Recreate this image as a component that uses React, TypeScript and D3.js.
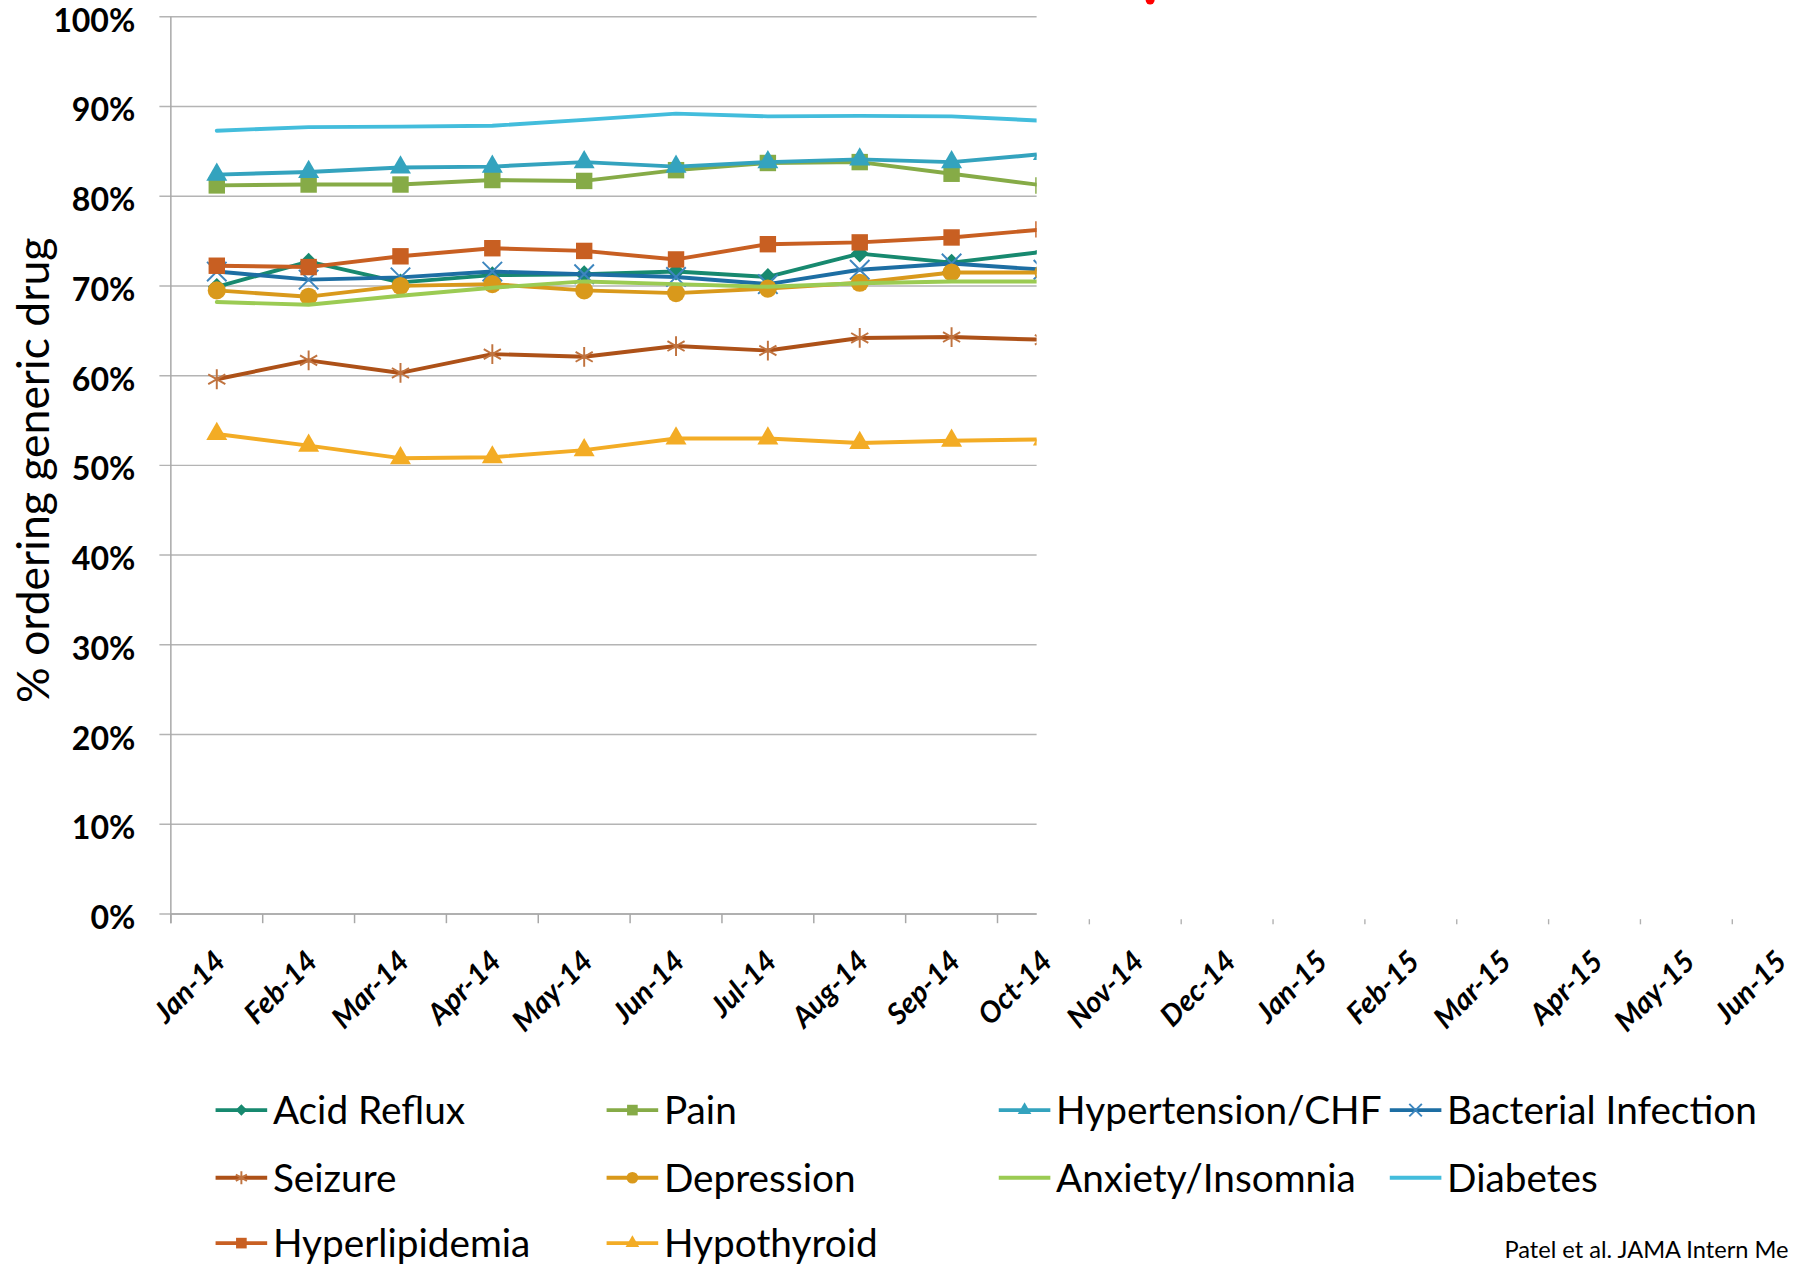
import React from "react";
import * as d3 from "d3";

// Months on the category axis (only the first ten carry data)
const months = [
  "Jan-14", "Feb-14", "Mar-14", "Apr-14", "May-14", "Jun-14", "Jul-14", "Aug-14", "Sep-14",
  "Oct-14", "Nov-14", "Dec-14", "Jan-15", "Feb-15", "Mar-15", "Apr-15", "May-15", "Jun-15",
];

// Percent of prescriptions ordered as generic, per condition
const acidReflux = [69.9, 72.7, 70.4, 71.2, 71.3, 71.6, 71.0, 73.6, 72.6, 73.8];
const pain = [81.2, 81.3, 81.3, 81.8, 81.7, 82.9, 83.7, 83.8, 82.5, 81.2];
const hypertension = [82.4, 82.7, 83.2, 83.3, 83.8, 83.3, 83.8, 84.1, 83.8, 84.7];
const bacterialInfection = [71.6, 70.7, 70.95, 71.6, 71.3, 71.0, 70.2, 71.8, 72.5, 71.8];
const seizure = [59.6, 61.7, 60.3, 62.4, 62.1, 63.3, 62.8, 64.2, 64.3, 64.0];
const depression = [69.5, 68.8, 70.0, 70.2, 69.5, 69.2, 69.7, 70.35, 71.5, 71.5];
const anxietyInsomnia = [68.2, 67.9, 68.9, 69.8, 70.5, 70.2, 69.9, 70.3, 70.5, 70.5];
const diabetes = [87.3, 87.7, 87.75, 87.85, 88.5, 89.2, 88.9, 88.95, 88.9, 88.4];
const hyperlipidemia = [72.25, 72.1, 73.3, 74.2, 73.9, 72.95, 74.65, 74.85, 75.4, 76.3];
const hypothyroid = [53.5, 52.2, 50.8, 50.9, 51.7, 53.0, 53.0, 52.5, 52.75, 52.9];

const yTickValues = [0, 10, 20, 30, 40, 50, 60, 70, 80, 90, 100];

type Marker = "diamond" | "square" | "triangle" | "x" | "asterisk" | "circle" | "none";

interface Series {
  name: string;
  values: number[];
  color: string;
  markerColor: string;
  marker: Marker;
}

const series: Series[] = [
  { name: "Acid Reflux", values: acidReflux, color: "#17896f", markerColor: "#17896f", marker: "diamond" },
  { name: "Pain", values: pain, color: "#86ab47", markerColor: "#86ab47", marker: "square" },
  { name: "Hypertension/CHF", values: hypertension, color: "#34a3be", markerColor: "#34a3be", marker: "triangle" },
  { name: "Bacterial Infection", values: bacterialInfection, color: "#1d6ea3", markerColor: "#3d86bf", marker: "x" },
  { name: "Seizure", values: seizure, color: "#ad5118", markerColor: "#c0733f", marker: "asterisk" },
  { name: "Depression", values: depression, color: "#d9991b", markerColor: "#d9991b", marker: "circle" },
  { name: "Anxiety/Insomnia", values: anxietyInsomnia, color: "#9bcb53", markerColor: "#9bcb53", marker: "none" },
  { name: "Diabetes", values: diabetes, color: "#43bddc", markerColor: "#43bddc", marker: "none" },
  { name: "Hyperlipidemia", values: hyperlipidemia, color: "#c85f22", markerColor: "#c85f22", marker: "square" },
  { name: "Hypothyroid", values: hypothyroid, color: "#f3ac25", markerColor: "#f3ac25", marker: "triangle" },
];

// Legend grid: four columns, filled row by row
const legendCols = [188, 529, 871, 1212];
const legendRows = [968, 1027, 1084];

const VW = 1568;
const VH = 1103;
const FONT = "Lato, 'Open Sans', sans-serif";

const x = d3.scaleBand<string>().domain(months).range([149, 149 + 80.1 * months.length]);
const y = d3.scaleLinear().domain([0, 100]).range([797, 14.5]);
const plotRight = 904;

function markerPath(m: Marker, scale: number): string | null {
  const gen = d3.symbol();
  switch (m) {
    case "diamond":
      return gen.type(d3.symbolSquare).size(120 * scale)();
    case "square":
      return gen.type(d3.symbolSquare).size(205 * scale)();
    case "triangle":
      return gen.type(d3.symbolTriangle).size(145 * scale)();
    case "x":
      return gen.type(d3.symbolX).size(190 * scale)();
    case "asterisk":
      return gen.type(d3.symbolAsterisk).size(210 * scale)();
    case "circle":
      return gen.type(d3.symbolCircle).size(195 * scale)();
    default:
      return null;
  }
}

function MarkerShape({ s, cx, cy, scale }: { s: Series; cx: number; cy: number; scale: number }) {
  const d = markerPath(s.marker, scale);
  if (!d) return null;
  const stroked = s.marker === "x" || s.marker === "asterisk";
  const rot = s.marker === "diamond" ? " rotate(45)" : "";
  return (
    <path
      d={d}
      transform={`translate(${cx},${cy})${rot}`}
      fill={stroked ? "none" : s.markerColor}
      stroke={stroked ? s.markerColor : "none"}
      strokeWidth={stroked ? 1.7 : 0}
    />
  );
}

export default function App() {
  const cx = (i: number) => (x(months[i]) as number) + x.bandwidth() / 2;
  const line = d3
    .line<number>()
    .x((_, i) => cx(i))
    .y((v) => y(v));

  const boundaries = d3.range(months.length + 1).map((k) => 149 + 80.1 * k);

  return (
    <svg
      width={1798}
      height={1265}
      viewBox={`0 0 ${VW} ${VH}`}
      style={{ position: "absolute", left: 0, top: 0, background: "#fff" }}
    >
      <defs>
        <clipPath id="plotClip">
          <rect x={0} y={0} width={plotRight} height={820} />
        </clipPath>
      </defs>

      {/* horizontal gridlines */}
      {yTickValues.map((v) => (
        <line key={v} x1={139} x2={plotRight} y1={y(v)} y2={y(v)} stroke="#b4b4b4" strokeWidth={1.3} />
      ))}
      {/* value axis */}
      <line x1={149} x2={149} y1={y(100)} y2={y(0) + 8} stroke="#a8a8a8" strokeWidth={1.3} />
      {yTickValues.map((v) => (
        <text
          key={`yl${v}`}
          x={118}
          y={y(v) + 3}
          dy="0.36em"
          textAnchor="end"
          fontFamily={FONT}
          fontWeight={700}
          fontSize={28}
          fill="#000"
        >
          {`${v}%`}
        </text>
      ))}

      {/* category axis */}
      <line x1={149} x2={plotRight} y1={y(0)} y2={y(0)} stroke="#a8a8a8" strokeWidth={1.3} />
      {boundaries.map((bx, k) =>
        bx <= plotRight ? (
          <line key={`t${k}`} x1={bx} x2={bx} y1={y(0)} y2={y(0) + 8} stroke="#a8a8a8" strokeWidth={1.3} />
        ) : (
          <line key={`t${k}`} x1={bx} x2={bx} y1={y(0) + 4.5} y2={y(0) + 9} stroke="#b0b0b0" strokeWidth={1.2} />
        )
      )}
      {months.map((m, i) => (
        <text
          key={m}
          transform={`translate(${cx(i) + 9},${840}) rotate(-45)`}
          textAnchor="end"
          fontFamily={FONT}
          fontWeight={700}
          fontStyle="italic"
          fontSize={25.5}
          fill="#000"
        >
          {m}
        </text>
      ))}

      {/* series */}
      <g clipPath="url(#plotClip)">
        {series.map((s) => (
          <g key={s.name}>
            <path
              d={line(s.values) || ""}
              fill="none"
              stroke={s.color}
              strokeWidth={3.4}
              strokeLinejoin="round"
              strokeLinecap="round"
            />
            {s.values.map((v, i) => (
              <MarkerShape key={i} s={s} cx={cx(i)} cy={y(v)} scale={1} />
            ))}
          </g>
        ))}
      </g>

      {/* axis title */}
      <text
        transform={`translate(43,410) rotate(-90)`}
        textAnchor="middle"
        fontFamily={FONT}
        fontSize={38.8}
        fill="#000"
      >
        % ordering generic drug
      </text>

      {/* legend */}
      {series.map((s, i) => {
        const lx = legendCols[i % 4];
        const ly = legendRows[Math.floor(i / 4)];
        return (
          <g key={`lg${s.name}`}>
            <line x1={lx} x2={lx + 45} y1={ly} y2={ly} stroke={s.color} strokeWidth={3.4} />
            <MarkerShape s={s} cx={lx + 22.5} cy={ly} scale={0.42} />
            <text x={lx + 50} y={ly} dy="0.36em" fontFamily={FONT} fontSize={33.8} fill="#000">
              {s.name}
            </text>
          </g>
        );
      })}

      {/* source note */}
      <text x={1312} y={1097} fontFamily={FONT} fontSize={20.6} fill="#000">
        Patel et al. JAMA Intern Me
      </text>

      {/* red fragment along the top edge */}
      <ellipse cx={1003} cy={0} rx={3.9} ry={3.8} fill="#ff0000" />
    </svg>
  );
}
